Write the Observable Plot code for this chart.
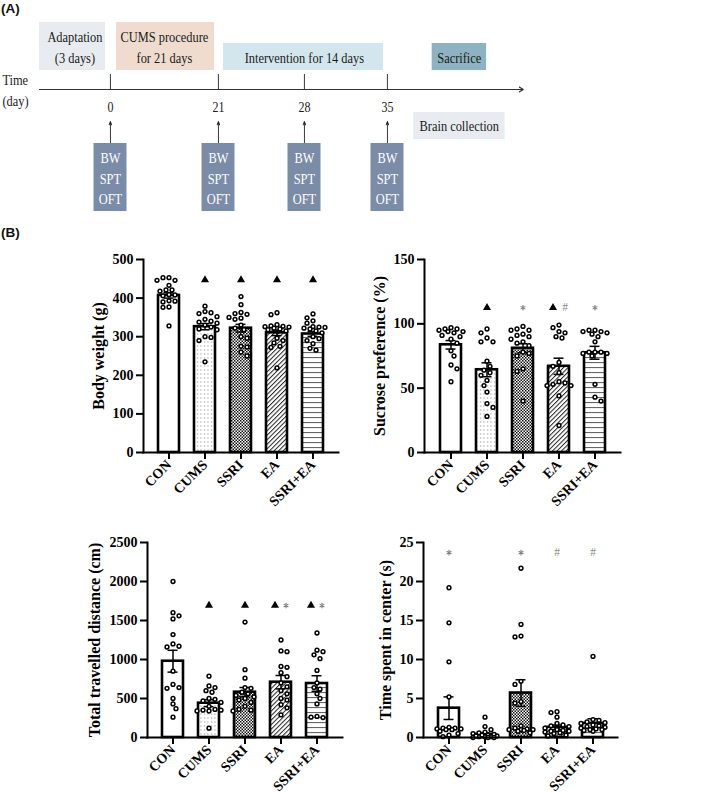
<!DOCTYPE html>
<html><head><meta charset="utf-8">
<script src="https://cdn.jsdelivr.net/npm/d3@7"></script>
<script src="https://cdn.jsdelivr.net/npm/@observablehq/plot@0.6"></script>
<style>
body{margin:0;background:#fff;}
#fig{position:relative;width:709px;height:802px;overflow:hidden;background:#fff;}
.tag{position:absolute;font-family:"Liberation Sans",Arial,sans-serif;font-weight:bold;font-size:13.5px;color:#111;}
#fig svg{position:absolute;overflow:visible;max-width:none !important;}
</style></head><body>
<div id="fig">
<svg width="0" height="0" style="left:0;top:0">
<defs>
<pattern id="pCums" patternUnits="userSpaceOnUse" width="3.5" height="4"><rect width="3.5" height="4" fill="white"/><rect x="1" y="1.5" width="1" height="1" fill="#777"/></pattern>
<pattern id="pSsri" patternUnits="userSpaceOnUse" width="3" height="3"><rect width="3" height="3" fill="white"/><rect width="1.5" height="1.5" fill="#111"/><rect x="1.5" y="1.5" width="1.5" height="1.5" fill="#111"/></pattern>
<pattern id="pEa" patternUnits="userSpaceOnUse" width="3.2" height="3.2" patternTransform="rotate(45)"><rect width="3.2" height="3.2" fill="white"/><rect width="1" height="3.2" fill="#222"/></pattern>
<pattern id="pCombo" patternUnits="userSpaceOnUse" width="6" height="5"><rect width="6" height="5" fill="white"/><rect y="2" width="6" height="1.1" fill="#666"/></pattern>
</defs></svg>
<div class="tag" style="left:1px;top:1px">(A)</div>
<div class="tag" style="left:1px;top:225px">(B)</div>
</div>
<script>
// ---------------- DATA ----------------
const groups = ["CON", "CUMS", "SSRI", "EA", "SSRI+EA"];

// Body weight (g), individual animals per group
const bodyWeight = [
  [453, 453, 446, 446, 433, 421, 421, 418, 409, 408, 406, 393, 392, 390, 377, 376, 328],
  [379, 365, 362, 360, 352, 345, 340, 338, 335, 330, 325, 320, 318, 300, 298, 290, 235],
  [404, 383, 363, 360, 358, 350, 348, 345, 330, 322, 318, 300, 296, 275, 273, 260, 250],
  [362, 357, 331, 328, 327, 326, 325, 322, 320, 318, 315, 296, 290, 284, 275, 272, 219],
  [359, 349, 341, 335, 326, 325, 324, 322, 320, 315, 310, 300, 295, 290, 282, 270, 265]
];
const bodyWeightMean = [407, 326, 322, 310, 307];
const bodyWeightSem = [7, 8, 10, 7, 6];
const bodyWeightTicks = [0, 100, 200, 300, 400, 500];

// Sucrose preference (%)
const sucrose = [
  [97, 96, 96, 95, 94, 94, 93, 91, 90, 88, 85, 79, 75, 68, 65, 55],
  [96, 93, 89, 86, 86, 71, 67, 64, 62, 60, 56, 52, 47, 38, 35, 28],
  [98, 96, 95, 95, 92, 91, 90, 88, 86, 85, 83, 78, 77, 75, 65, 63, 40],
  [99, 97, 94, 93, 90, 89, 70, 67, 62, 55, 54, 53, 52, 52, 44, 21],
  [95, 95, 94, 94, 93, 92, 90, 86, 78, 78, 78, 77, 77, 75, 53, 43, 40]
];
const sucroseMean = [83.7, 64.3, 81, 67, 77.5];
const sucroseSem = [3.3, 5.4, 3.5, 6.3, 5];
const sucroseTicks = [0, 50, 100, 150];

// Total travelled distance (cm)
const distance = [
  [2000, 1600, 1560, 1520, 1320, 1200, 1170, 1160, 850, 680, 640, 630, 500, 430, 370, 260],
  [786, 660, 640, 600, 580, 500, 490, 470, 450, 400, 360, 350, 350, 340, 340, 120],
  [1480, 870, 760, 640, 630, 580, 560, 540, 520, 500, 480, 450, 400, 360, 350, 340],
  [1250, 1110, 1100, 910, 900, 830, 780, 700, 650, 600, 560, 500, 480, 420, 380, 290],
  [1340, 1120, 1100, 1060, 1010, 860, 700, 640, 620, 560, 500, 430, 270, 260, 255]
];
const distanceMean = [978, 440, 581, 709, 692];
const distanceSem = [140, 45, 60, 86, 100];
const distanceTicks = [0, 500, 1000, 1500, 2000, 2500];

// Time spent in center (s)
const centerTime = [
  [19.2, 14.7, 9.7, 5.2, 1.3, 1.2, 1.2, 1.1, 1.1, 1.0, 1.0, 0.8, 0.5, 0.3, 0.1],
  [2.6, 1.4, 1.0, 0.7, 0.6, 0.5, 0.4, 0.3, 0.3, 0.2, 0.2, 0.1, 0.1, 0.1, 0.0, 0.0, 0.0],
  [21.7, 14.5, 13.0, 12.9, 7.2, 6.8, 4.6, 4.4, 1.5, 1.2, 1.1, 1.0, 1.0, 1.0, 0.9, 0.8, 0.6],
  [3.3, 3.2, 2.6, 1.8, 1.6, 1.5, 1.4, 1.2, 1.0, 0.9, 0.8, 0.8, 0.7, 0.6, 0.5, 0.3, 0.2],
  [10.4, 2.3, 2.2, 2.0, 1.9, 1.8, 1.6, 1.5, 1.4, 1.3, 1.2, 1.1, 1.0, 1.0, 0.9, 0.8]
];
const centerTimeMean = [3.76, 0.4, 5.7, 1.3, 1.8];
const centerTimeSem = [1.45, 0.2, 1.7, 0.3, 0.6];
const centerTimeTicks = [0, 5, 10, 15, 20, 25];

// Significance marks (▲ vs CON, * vs CUMS, # vs SSRI)
const bwTriangle = ["CUMS", "SSRI", "EA", "SSRI+EA"];
const spTriangle = ["CUMS", "EA"], spStar = ["SSRI", "SSRI+EA"], spHash = ["EA"];
const tdTriangle = ["CUMS", "SSRI", "EA", "SSRI+EA"], tdStar = ["EA", "SSRI+EA"];
const tcStar = ["CON", "SSRI"], tcHash = ["EA", "SSRI+EA"];

// Timeline (panel A)
const tickDays = [0, 21, 28, 35];
const phaseLabels = ["Adaptation\n(3 days)", "CUMS procedure\nfor 21 days", "Intervention for 14 days", "Sacrifice"];
const phaseStart = [-3, 0, 21, 37.3];
const phaseEnd = [0, 21, 35, 40.1];
const measures = ["BW", "SPT", "OFT"];

// ---------------- STYLE / LAYOUT ----------------
const serif = "'Liberation Serif','Times New Roman',serif";
const patternFills = ["white", "url(#pCums)", "url(#pSsri)", "url(#pEa)", "url(#pCombo)"];
const fig = document.getElementById("fig");

// ---- Panel A: schematic timeline (drawn squeezed horizontally like the original) ----
const S = 0.8;
const phaseColors = ["#E8ECF0", "#EFDCCF", "#D4E6ED", "#8DB3C3"];
const phaseRows = [[22, 70], [22, 70], [43, 70], [43, 70]];
const phaseInset = [[0, 5], [6, 4], [5, 4], [0, 0]];
const phases = phaseLabels.map((label, i) => ({
  label, start: phaseStart[i], end: phaseEnd[i], mid: (phaseStart[i] + phaseEnd[i]) / 2,
  top: phaseRows[i][0], bottom: phaseRows[i][1], color: phaseColors[i]
}));

const timeline = Plot.plot({
  width: 709 / S, height: 222, margin: 0,
  x: {type: "linear", domain: [-3, 0, 21, 28, 35, 42], range: [39, 110, 218, 304, 387, 523].map(v => v / S), axis: null},
  y: {type: "linear", domain: [0, 222], range: [0, 222], axis: null},
  style: {fontFamily: serif, color: "#111", background: "transparent", overflow: "visible"},
  marks: [
    ...phases.map((p, i) => Plot.rect([p], {x1: "start", x2: "end", y1: "top", y2: "bottom", fill: p.color,
      insetLeft: phaseInset[i][0] / S, insetRight: phaseInset[i][1] / S})),
    Plot.text(phases, {x: "mid", y: d => (d.top + d.bottom) / 2 - 1, text: "label", fontSize: 15.5, lineHeight: 1.38, fill: "#1a1a1a"}),
    Plot.arrow([0], {x1: -3, x2: 42, y1: 89, y2: 89, stroke: "#333", strokeWidth: 1.2, headLength: 7, headAngle: 50}),
    Plot.ruleX(tickDays, {x: d => d, y1: 74, y2: 89, stroke: "#333", strokeWidth: 1.2}),
    Plot.text(tickDays, {x: d => d, y: 107, text: d => String(d), fontSize: 15, fill: "#1a1a1a"}),
    Plot.arrow(tickDays, {x1: d => d, x2: d => d, y1: 143, y2: 121, stroke: "#222", strokeWidth: 1.1, headLength: 5, headAngle: 50}),
    Plot.rect(tickDays, {x1: d => d, x2: d => d, y1: 143, y2: 211, fill: "#7B8CA8", insetLeft: -16.5 / S, insetRight: -16.5 / S}),
    Plot.text(tickDays, {x: d => d, y: 176.5, text: () => measures.join("\n"), fill: "white", fontSize: 15.5, lineHeight: 1.32}),
    Plot.rect([0], {x1: 36.35, x2: 41.05, y1: 112, y2: 139, fill: "#E8ECF0"}),
    Plot.text(["Brain collection"], {x: 38.7, y: 125.5, text: d => d, fontSize: 15.5, fill: "#1a1a1a"}),
    Plot.text(["Time\n(day)"], {frameAnchor: "left", y: 88.5, text: d => d, textAnchor: "start", dx: 2 / S, fontSize: 15.5, lineHeight: 1.32, fill: "#1a1a1a"})
  ]
});
timeline.style.left = "0px";
timeline.style.top = "0px";
timeline.style.width = (709 / S) + "px";
timeline.style.height = "222px";
timeline.style.transformOrigin = "0 0";
timeline.style.transform = `scaleX(${S})`;
fig.appendChild(timeline);

// ---- Panel B: bar + scatter charts ----
function swarmOffsets(vals, ypx) {
  const order = d3.range(vals.length).sort((a, b) => vals[b] - vals[a]);
  const placed = [];
  const off = new Array(vals.length).fill(0);
  const base = [0, 3, 6, 9, 12];
  for (const i of order) {
    const y = ypx(vals[i]);
    const sgn = placed.length % 2 ? 1 : -1;
    const cands = [0];
    base.slice(1).forEach(b => cands.push(-sgn * b, sgn * b));
    let best = 0, bestD = -1;
    for (const c of cands) {
      let minD = Infinity;
      for (const p of placed) minD = Math.min(minD, Math.hypot(p.x - c, p.y - y));
      if (minD >= 5.4) { best = c; break; }
      if (minD > bestD) { bestD = minD; best = c; }
    }
    off[i] = best;
    placed.push({x: best, y});
  }
  return off;
}

const panels = [
  {values: bodyWeight, mean: bodyWeightMean, sem: bodyWeightSem, ticks: bodyWeightTicks, label: "Body weight (g)",
   markY: 447, tri: bwTriangle, star: [], hash: [], left: 0, top: 240, width: 355, height: 275, ml: 143, pw: 195, mt: 19, mb: 63, labelDx: -45},
  {values: sucrose, mean: sucroseMean, sem: sucroseSem, ticks: sucroseTicks, label: "Sucrose preference (%)",
   markY: 112.5, tri: spTriangle, star: spStar, hash: spHash, left: 360, top: 240, width: 349, height: 275, ml: 64, pw: 196, mt: 19, mb: 63, labelDx: -45},
  {values: distance, mean: distanceMean, sem: distanceSem, ticks: distanceTicks, label: "Total travelled distance (cm)",
   markY: 1692, tri: tdTriangle, star: tdStar, hash: [], left: 0, top: 520, width: 360, height: 282, ml: 147, pw: 195, mt: 22, mb: 65, labelDx: -53},
  {values: centerTime, mean: centerTimeMean, sem: centerTimeSem, ticks: centerTimeTicks, label: "Time spent in center (s)",
   markY: 23.7, tri: [], star: tcStar, hash: tcHash, left: 360, top: 520, width: 349, height: 282, ml: 63, pw: 194, mt: 22, mb: 65, labelDx: -38}
];

function barPanel(p) {
  const yMax = p.ticks[p.ticks.length - 1];
  const plotH = p.height - p.mt - p.mb;
  const ypx = d3.scaleLinear([0, yMax], [plotH, 0]);
  const pts = [];
  groups.forEach((g, gi) => {
    const offs = swarmOffsets(p.values[gi], ypx);
    p.values[gi].forEach((v, k) => pts.push({g, v, off: offs[k]}));
  });
  const offKeys = Array.from(new Set(pts.map(d => d.off)));
  const stats = groups.map((g, i) => ({g, m: p.mean[i], lo: p.mean[i] - p.sem[i], hi: p.mean[i] + p.sem[i], fill: patternFills[i]}));
  const paired = g => p.tri.includes(g) && (p.star.includes(g) || p.hash.includes(g));
  const marks = [
    ...stats.map(d => Plot.barY([d], {x: "g", y: "m", fill: d.fill, stroke: "black", strokeWidth: 2.6})),
    Plot.ruleX(stats, {x: "g", y1: "lo", y2: "hi", stroke: "black", strokeWidth: 1.5}),
    Plot.tickY(stats, {x: "g", y: "hi", stroke: "black", strokeWidth: 1.5, insetLeft: 5.5, insetRight: 5.5}),
    Plot.tickY(stats, {x: "g", y: "lo", stroke: "black", strokeWidth: 1.5, insetLeft: 5.5, insetRight: 5.5}),
    ...offKeys.map(o => Plot.dot(pts.filter(d => d.off === o), {x: "g", y: "v", dx: o, r: 1.9, fill: "white", stroke: "black", strokeWidth: 1.5})),
    Plot.frame({anchor: "left", stroke: "black", strokeWidth: 2}),
    Plot.frame({anchor: "bottom", stroke: "black", strokeWidth: 2}),
    Plot.axisY({ticks: p.ticks, tickFormat: d => String(d), tickSize: 7, tickPadding: 3, strokeWidth: 2, fontSize: 14, fontWeight: "bold", label: null}),
    Plot.axisX({tickRotate: -45, tickSize: 7, tickPadding: 3, strokeWidth: 2, fontSize: 14, fontWeight: "bold", label: null}),
    Plot.dot(p.tri.filter(g => !paired(g)), {x: d => d, y: p.markY, symbol: "triangle", r: 3, fill: "black"}),
    Plot.dot(p.tri.filter(g => paired(g)), {x: d => d, y: p.markY, symbol: "triangle", r: 3, fill: "black", dx: -6}),
    Plot.dot(p.star.filter(g => !paired(g)), {x: d => d, y: p.markY, symbol: "asterisk", r: 2.6, stroke: "#808080", strokeWidth: 1.1}),
    Plot.dot(p.star.filter(g => paired(g)), {x: d => d, y: p.markY, symbol: "asterisk", r: 2.6, stroke: "#808080", strokeWidth: 1.1, dx: 5}),
    Plot.text(p.hash.filter(g => !paired(g)), {x: d => d, y: p.markY, text: () => "#", fill: "#8a8a8a", fontSize: 11.5}),
    Plot.text(p.hash.filter(g => paired(g)), {x: d => d, y: p.markY, text: () => "#", fill: "#8a8a8a", fontSize: 11.5, dx: 6}),
    Plot.text([p.label], {frameAnchor: "left", text: d => d, rotate: -90, textAnchor: "middle", lineAnchor: "middle", dx: p.labelDx, fontSize: 16, fontWeight: "bold", fill: "black"})
  ];
  const svg = Plot.plot({
    width: p.width, height: p.height,
    marginLeft: p.ml, marginRight: p.width - p.ml - p.pw, marginTop: p.mt, marginBottom: p.mb,
    x: {domain: groups, paddingInner: 0.42, paddingOuter: 0.37},
    y: {domain: [0, yMax]},
    style: {fontFamily: serif, color: "black", background: "transparent", overflow: "visible"},
    marks
  });
  svg.style.left = p.left + "px";
  svg.style.top = p.top + "px";
  return svg;
}

panels.forEach(p => fig.appendChild(barPanel(p)));
</script>
</body></html>
